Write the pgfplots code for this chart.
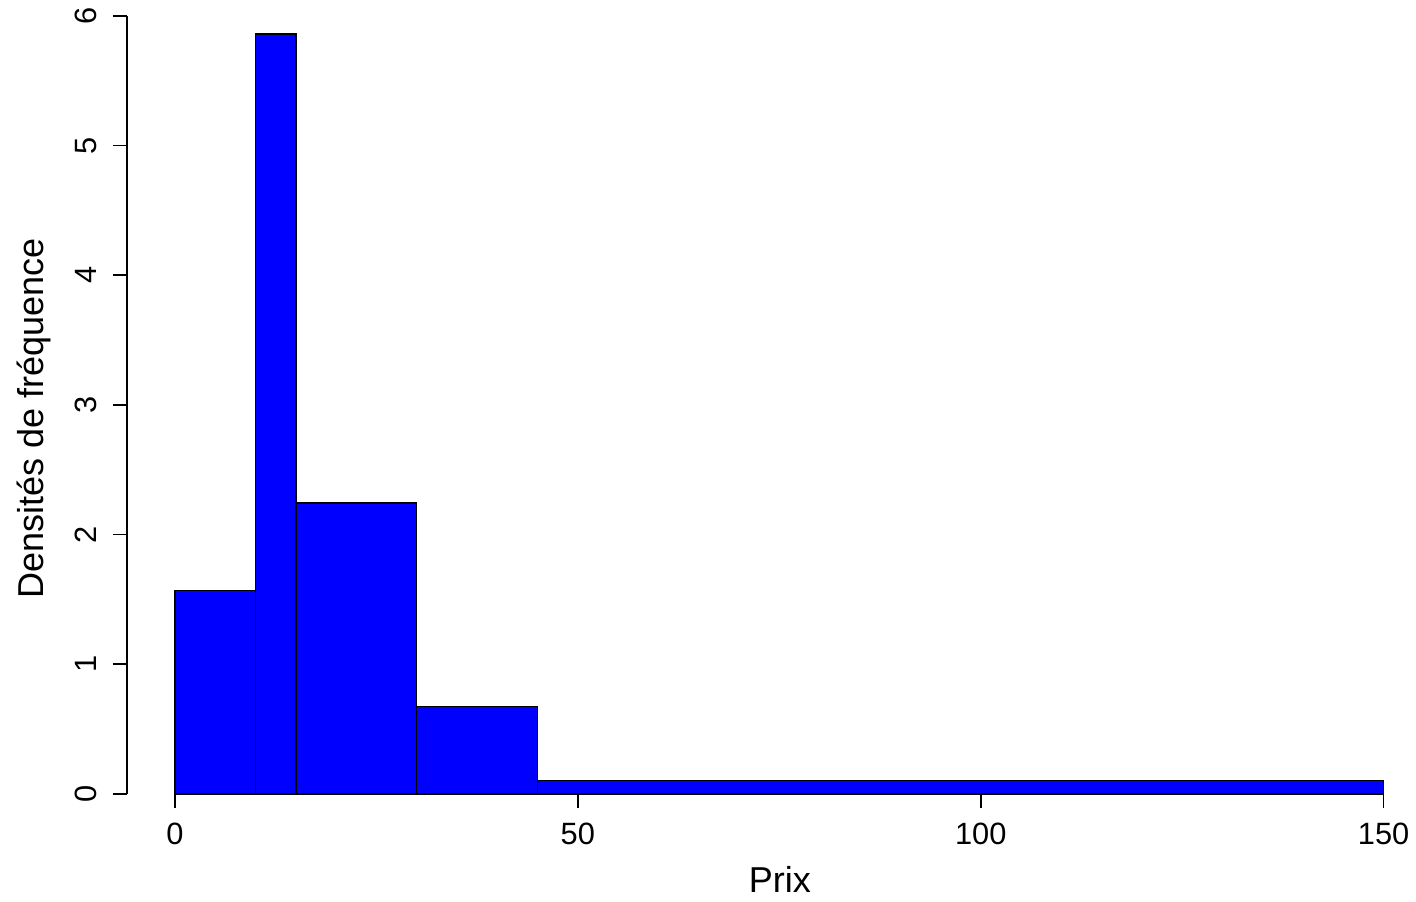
\documentclass[border=0pt]{standalone}
\usepackage{fontspec}
\setmainfont{Liberation Sans}
\usepackage{pgfplots}
\pgfplotsset{compat=1.18}
\begin{document}
\begin{tikzpicture}
\begin{axis}[
  scale only axis,
  width=628.5pt, height=389pt,
  xmin=-5.955, xmax=150,
  ymin=0, ymax=6,
  clip=false,
  axis x line*=bottom,
  axis y line*=left,
  x axis line style={draw=none},
  y axis line style={line width=0.75pt},
  tick align=outside,
  major tick length=7pt,
  every tick/.style={black, line width=0.75pt},
  xtick={0,50,100,150},
  ytick={0,1,2,3,4,5,6},
  /pgf/number format/assume math mode=true,
  ticklabel style={font=\fontsize{15.4}{18}\selectfont},
  yticklabel style={xshift=-8pt, rotate=90, anchor=base},
  xticklabel style={anchor=base, yshift=-18.2pt},
]
\addplot[ybar interval, fill={rgb,255:red,0;green,0;blue,255}, draw=black, line width=0.8pt]
  coordinates {(0,1.568) (10,5.862) (15,2.242) (30,0.673) (45,0.102) (150,0.102)};
\node[anchor=base, font=\fontsize{18}{21}\selectfont] at (axis cs:75.06,-0.7635) {Prix};
\node[rotate=90, anchor=base, font=\fontsize{18}{21}\selectfont] at (axis cs:-16.34,2.896) {Densités de fréquence};
\path[draw=none] (axis cs:-21.712,-0.8329) rectangle (axis cs:153.97,6.1231);
\end{axis}
\end{tikzpicture}
\end{document}
